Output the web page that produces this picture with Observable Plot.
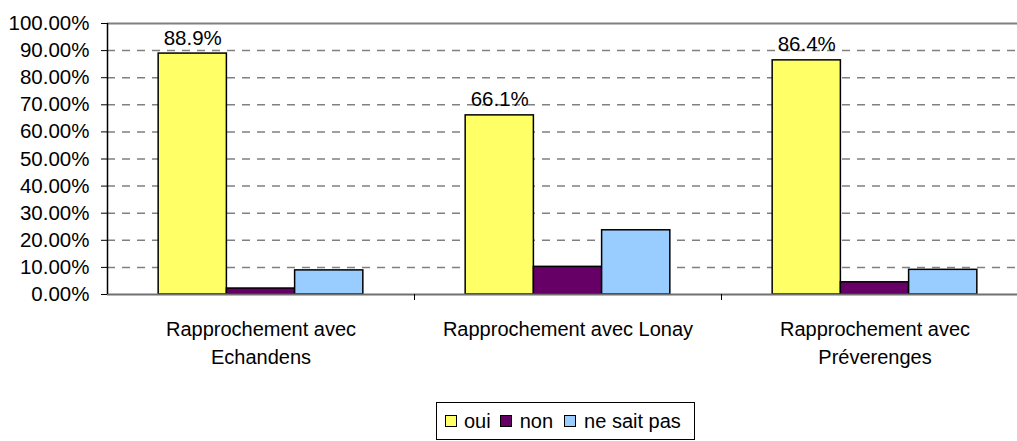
<!DOCTYPE html>
<html>
<head>
<meta charset="utf-8">
<script src="https://cdn.jsdelivr.net/npm/d3@7"></script>
<script src="https://cdn.jsdelivr.net/npm/@observablehq/plot@0.6"></script>
<style>
  html, body { margin: 0; padding: 0; background: #fff; }
  body { width: 1017px; height: 441px; overflow: hidden; font-family: "Liberation Sans", Arial, sans-serif; position: relative; }
  #chart svg { display: block; }
  #legend {
    position: absolute; left: 436px; top: 402px; width: 257px; height: 36px;
    border: 1px solid #000; box-sizing: content-box;
    display: flex; align-items: center; font-size: 20px; color: #000;
    padding-left: 0;
  }
  .sw { width: 10px; height: 10px; border: 1.5px solid #000; display: inline-block; }
  .item { display: flex; align-items: center; }
</style>
</head>
<body>
<div id="chart"></div>
<div id="legend"></div>
<script>
const categories = ["Rapprochement avec Echandens", "Rapprochement avec Lonay", "Rapprochement avec Préverenges"];
const categoryLabels = ["Rapprochement avec\nEchandens", "Rapprochement avec Lonay", "Rapprochement avec\nPréverenges"];
const series = ["oui", "non", "ne sait pas"];
const colors = ["#FFFF66", "#660066", "#99CCFF"];
const oui = [0.889, 0.661, 0.864];
const non = [0.022, 0.102, 0.045];
const neSaitPas = [0.089, 0.237, 0.091];
const yTicks = [0, 0.1, 0.2, 0.3, 0.4, 0.5, 0.6, 0.7, 0.8, 0.9, 1.0];

const values = [oui, non, neSaitPas];
const rows = [];
series.forEach((s, i) => categories.forEach((c, j) => rows.push({cat: c, series: s, value: values[i][j]})));

const W = 1017, H = 400;
const x0 = 107, x1 = 1028;
const B = (x1 - x0) / categories.length;
const b = B / 4.5;
const font = "Liberation Sans, Arial, sans-serif";

const barMarks = series.map((s, i) => Plot.barY(rows.filter(d => d.series === s), {
  x: "cat", y: "value", fill: colors[i], stroke: "#000", strokeWidth: 1.5,
  insetLeft: (0.75 + i) * b, insetRight: B - (1.75 + i) * b
}));

const chart = Plot.plot({
  width: W, height: H,
  marginLeft: x0, marginRight: 0, marginTop: 23, marginBottom: H - 294,
  style: {fontFamily: font, fontSize: "20px", color: "#000", background: "#fff"},
  x: {domain: categories, range: [x0, x1], padding: 0, axis: null},
  y: {domain: [0, 1], axis: null, label: null},
  color: {domain: series, range: colors},
  marks: [
    Plot.gridY(yTicks.slice(1, -1), {stroke: "#808080", strokeOpacity: 1, strokeWidth: 1.5, strokeDasharray: "8,7"}),
    Plot.ruleY([1], {stroke: "#808080", strokeWidth: 2}),
    ...barMarks,
    Plot.ruleY([0], {stroke: "#707070", strokeWidth: 2}),
    Plot.ruleX([categories[0]], {x: d => d, dx: -B / 2, y1: 0, y2: 1, stroke: "#000", strokeWidth: 1.5}),
    Plot.ruleX(categories.slice(1), {x: d => d, dx: -B / 2, y1: 0, y2: 0, insetBottom: -6, stroke: "#000", strokeWidth: 1}),
    Plot.axisY(yTicks, {label: null, tickFormat: d3.format(".2%"), tickSize: 6, tickPadding: 12, fontSize: 20.5, stroke: "#000", fill: "#000"}),
    Plot.text(rows.filter(d => d.series === "oui"), {
      x: "cat", y: "value", text: d => d3.format(".1%")(d.value), dx: -b, dy: -9,
      lineAnchor: "bottom", fontSize: 20.5, fill: "#000"
    }),
    Plot.text(categories, {
      x: d => d, text: d => categoryLabels[categories.indexOf(d)], frameAnchor: "bottom",
      dy: 21, lineAnchor: "top", lineHeight: 1.42, fontSize: 20, fill: "#000"
    })
  ]
});
document.getElementById("chart").appendChild(chart);

const legend = document.getElementById("legend");
const gaps = [[8, 7], [9, 8], [11, 8]];
series.forEach((s, i) => {
  const item = document.createElement("span");
  item.className = "item";
  item.style.marginLeft = gaps[i][0] + "px";
  const sw = document.createElement("span");
  sw.className = "sw";
  sw.style.background = colors[i];
  sw.style.marginRight = gaps[i][1] + "px";
  const t = document.createElement("span");
  t.textContent = s;
  item.appendChild(sw); item.appendChild(t);
  legend.appendChild(item);
});
</script>
</body>
</html>
